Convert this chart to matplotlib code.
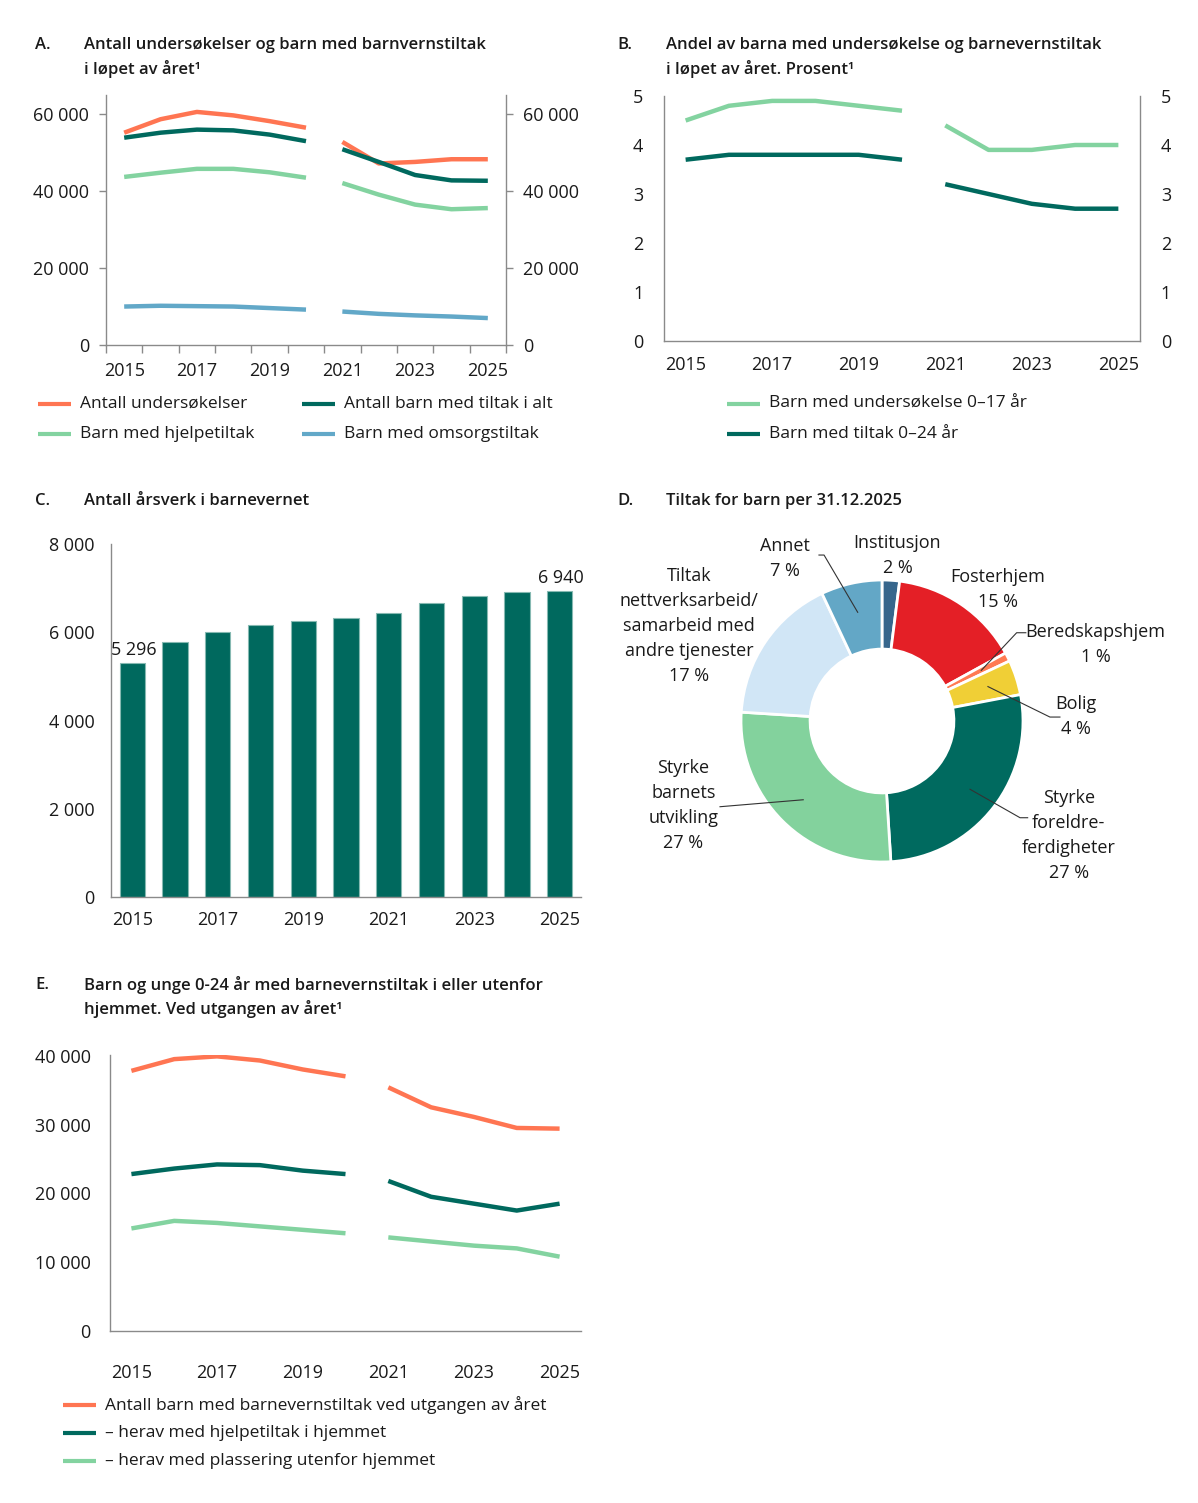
import matplotlib
matplotlib.use('Agg')
import matplotlib.pyplot as plt
from matplotlib.lines import Line2D
import numpy as np

W, H = 1198, 1503
plt.rcParams['font.family'] = ['Open Sans', 'DejaVu Sans']
TXT = '#1a1a1a'
SPINE = '#8a8a8a'

# ---------------- data ----------------
years = list(range(2015, 2026))
year_labels = [str(y) if (y - 2015) % 2 == 0 else '' for y in years]

a_undersokelser = [55200, 58700, 60600, 59700, 58200, 56500, 52800, 47200, 47600, 48300, 48300]
a_tiltak_alt = [53900, 55200, 56000, 55800, 54700, 53000, 50900, 47600, 44200, 42800, 42700]
a_hjelpetiltak = [43700, 44800, 45800, 45800, 44900, 43500, 42100, 39100, 36500, 35300, 35600]
a_omsorgstiltak = [10000, 10200, 10100, 10000, 9600, 9200, 8700, 8100, 7700, 7400, 7000]

b_undersokelse = [4.5, 4.8, 4.9, 4.9, 4.8, 4.7, 4.4, 3.9, 3.9, 4.0, 4.0]
b_tiltak = [3.7, 3.8, 3.8, 3.8, 3.8, 3.7, 3.2, 3.0, 2.8, 2.7, 2.7]

c_arsverk = [5296, 5790, 6010, 6155, 6245, 6313, 6441, 6652, 6817, 6915, 6940]
c_labelled = [0, 10]

d_labels = ['Institusjon', 'Fosterhjem', 'Beredskapshjem', 'Bolig',
            'Styrke\nforeldre-\nferdigheter', 'Styrke\nbarnets\nutvikling',
            'Tiltak\nnettverksarbeid/\nsamarbeid med\nandre tjenester', 'Annet']
d_values = [2, 15, 1, 4, 27, 27, 17, 7]

e_total = [37800, 39500, 39900, 39300, 38000, 37000, 35400, 32500, 31100, 29500, 29400]
e_hjelpetiltak = [22800, 23600, 24200, 24100, 23300, 22800, 21800, 19500, 18500, 17500, 18500]
e_plassering = [14900, 16000, 15700, 15200, 14700, 14200, 13600, 13000, 12400, 12000, 10800]

break_year = 2020  # series are broken between this year and the next

# ---------------- style ----------------
ORANGE = '#ff7552'
DARK = '#00695e'
LIGHT = '#83d3a0'
BLUE = '#62a8c8'
d_colors = ['#37668c', '#e41f26', '#ff7a52', '#f0cf36', '#006a5f', '#83d29d', '#d1e6f6', '#63a7c6']

fig = plt.figure(figsize=(W / 100, H / 100), dpi=100)


def fx(x):
    return x / W


def fy(y):
    return 1 - y / H


def axes_px(l, t, r, b):
    return fig.add_axes([fx(l), fy(b), (r - l) / W, (b - t) / H])


def fmt(v):
    return f'{int(v):,}'.replace(',', ' ')


def title(letter, lines, x, y):
    fig.text(fx(x), fy(y), letter, fontsize=12, fontweight='semibold', color=TXT, va='center', ha='left')
    for i, ln in enumerate(lines):
        fig.text(fx(x + 49), fy(y + 24 * i), ln, fontsize=12, fontweight='semibold', color=TXT,
                 va='center', ha='left')


def legend_entry(x, y, color, text):
    fig.add_artist(Line2D([fx(x), fx(x + 33)], [fy(y), fy(y)], color=color, lw=3,
                          solid_capstyle='butt', transform=fig.transFigure))
    fig.text(fx(x + 42), fy(y), text, fontsize=12.5, color=TXT, va='center', ha='left')


idx = np.arange(len(years))
split = years.index(break_year) + 1
segments = [slice(0, split), slice(split, len(years))]


def plot_broken(ax, values, color):
    v = np.array(values, dtype=float)
    for s in segments:
        ax.plot(idx[s], v[s], color=color, lw=3.2, solid_capstyle='butt', solid_joinstyle='round')


def base_axes(ax):
    for sp in ax.spines.values():
        sp.set_color(SPINE)
        sp.set_linewidth(1)
    ax.tick_params(colors=SPINE, labelcolor=TXT, labelsize=13)
    ax.set_xlim(-0.5, len(years) - 0.5)


# ---------------- A ----------------
axA = axes_px(106, 95, 506, 345)
base_axes(axA)
plot_broken(axA, a_undersokelser, ORANGE)
plot_broken(axA, a_tiltak_alt, DARK)
plot_broken(axA, a_hjelpetiltak, LIGHT)
plot_broken(axA, a_omsorgstiltak, BLUE)
axA.set_ylim(0, 65000)
axA.set_yticks([0, 20000, 40000, 60000])
axA.set_yticklabels([fmt(v) for v in [0, 20000, 40000, 60000]])
axA.set_xticks(idx)
axA.set_xticklabels(year_labels)
axA.set_xticks(np.arange(-0.5, len(years)), minor=True)
axA.tick_params(axis='x', which='major', length=0, pad=12)
axA.tick_params(axis='x', which='minor', length=6, width=1, color=SPINE)
axA.tick_params(axis='y', length=5, width=1, pad=7, right=True, labelright=True)
axA.spines['top'].set_visible(False)
title('A.', ['Antall undersøkelser og barn med barnvernstiltak', 'i løpet av året¹'], 35, 45)
legend_entry(38, 404, ORANGE, 'Antall undersøkelser')
legend_entry(302, 404, DARK, 'Antall barn med tiltak i alt')
legend_entry(38, 434, LIGHT, 'Barn med hjelpetiltak')
legend_entry(302, 434, BLUE, 'Barn med omsorgstiltak')

# ---------------- B ----------------
axB = axes_px(664, 96, 1140, 341)
base_axes(axB)
plot_broken(axB, b_undersokelse, LIGHT)
plot_broken(axB, b_tiltak, DARK)
axB.set_ylim(0, 5)
axB.set_yticks(range(6))
axB.set_xticks(idx)
axB.set_xticklabels(year_labels)
axB.tick_params(axis='x', length=0, pad=11)
axB.tick_params(axis='y', length=0, pad=15, right=True, labelright=True)
axB.spines['top'].set_visible(False)
title('B.', ['Andel av barna med undersøkelse og barnevernstiltak', 'i løpet av året. Prosent¹'], 617, 45)
legend_entry(727, 404, LIGHT, 'Barn med undersøkelse 0–17 år')
legend_entry(727, 434, DARK, 'Barn med tiltak 0–24 år')

# ---------------- C ----------------
axC = axes_px(111, 544, 581, 897)
base_axes(axC)
bars = axC.bar(idx, c_arsverk, width=0.59, color=DARK, edgecolor='#86b9b2', linewidth=0.8)
axC.set_ylim(0, 8000)
axC.set_yticks(range(0, 8001, 2000))
axC.set_yticklabels([fmt(v) for v in range(0, 8001, 2000)])
axC.set_xticks(idx)
axC.set_xticklabels(year_labels)
axC.tick_params(axis='x', length=0, pad=10)
axC.tick_params(axis='y', length=0, pad=12)
axC.spines['top'].set_visible(False)
axC.spines['right'].set_visible(False)
for i in c_labelled:
    axC.annotate(fmt(c_arsverk[i]), (idx[i], c_arsverk[i]), xytext=(1, 3), textcoords='offset points',
                 ha='center', va='bottom', fontsize=13, color=TXT)
title('C.', ['Antall årsverk i barnevernet'], 35, 501)

# ---------------- D ----------------
axD = axes_px(882 - 282, 721 - 282, 882 + 282, 721 + 282)
axD.axis('off')
wedges, _ = axD.pie(d_values, startangle=90, counterclock=False, radius=1, colors=d_colors,
                    wedgeprops=dict(width=0.49, edgecolor='white', linewidth=2))
axD.set_aspect('equal')
axD.set_xlim(-2, 2)
axD.set_ylim(-2, 2)
# label layout (data units of donut axes, radius = 1)
d_text_pos = [(0.11, 1.175), (0.82, 0.93), (1.515, 0.54), (1.375, 0.035),
              (1.325, -0.81), (-1.41, -0.60), (-1.37, 0.675), (-0.69, 1.155)]
d_leader = {2: [(0.955, 0.626), (1.02, 0.626)],
            3: [(1.191, 0.028), (1.262, 0.028)],
            4: [(0.979, -0.686), (1.033, -0.686)],
            5: [(-1.149, -0.608)],
            7: [(-0.411, 1.177), (-0.447, 1.177)]}
cum = np.cumsum([0] + d_values)
total = cum[-1]
for i, (lab, val) in enumerate(zip(d_labels, d_values)):
    tx, ty = d_text_pos[i]
    axD.text(tx, ty, f'{lab}\n{val} %', ha='center', va='center', fontsize=13, color=TXT,
             linespacing=1.5)
    if i in d_leader:
        mid = (cum[i] + val / 2) / total
        ang = np.deg2rad(90 - 360 * mid)
        r = 0.79
        pts = [(r * np.cos(ang), r * np.sin(ang))] + d_leader[i]
        xs, ys = zip(*pts)
        axD.plot(xs, ys, color='#333333', lw=0.8)
title('D.', ['Tiltak for barn per 31.12.2025'], 617, 501)

# ---------------- E ----------------
axE = axes_px(110, 1055, 581, 1331)
base_axes(axE)
plot_broken(axE, e_total, ORANGE)
plot_broken(axE, e_hjelpetiltak, DARK)
plot_broken(axE, e_plassering, LIGHT)
axE.set_ylim(0, 40100)
axE.set_yticks(range(0, 40001, 10000))
axE.set_yticklabels([fmt(v) for v in range(0, 40001, 10000)])
axE.set_xticks(idx)
axE.set_xticklabels(year_labels)
axE.tick_params(axis='x', length=0, pad=24)
axE.tick_params(axis='y', length=0, pad=14)
axE.spines['top'].set_visible(False)
axE.spines['right'].set_visible(False)
title('E.', ['Barn og unge 0-24 år med barnevernstiltak i eller utenfor', 'hjemmet. Ved utgangen av året¹'], 35, 985)
legend_entry(63, 1405, ORANGE, 'Antall barn med barnevernstiltak ved utgangen av året')
legend_entry(63, 1433, DARK, '– herav med hjelpetiltak i hjemmet')
legend_entry(63, 1461, LIGHT, '– herav med plassering utenfor hjemmet')

fig.savefig('out.png', dpi=100)
